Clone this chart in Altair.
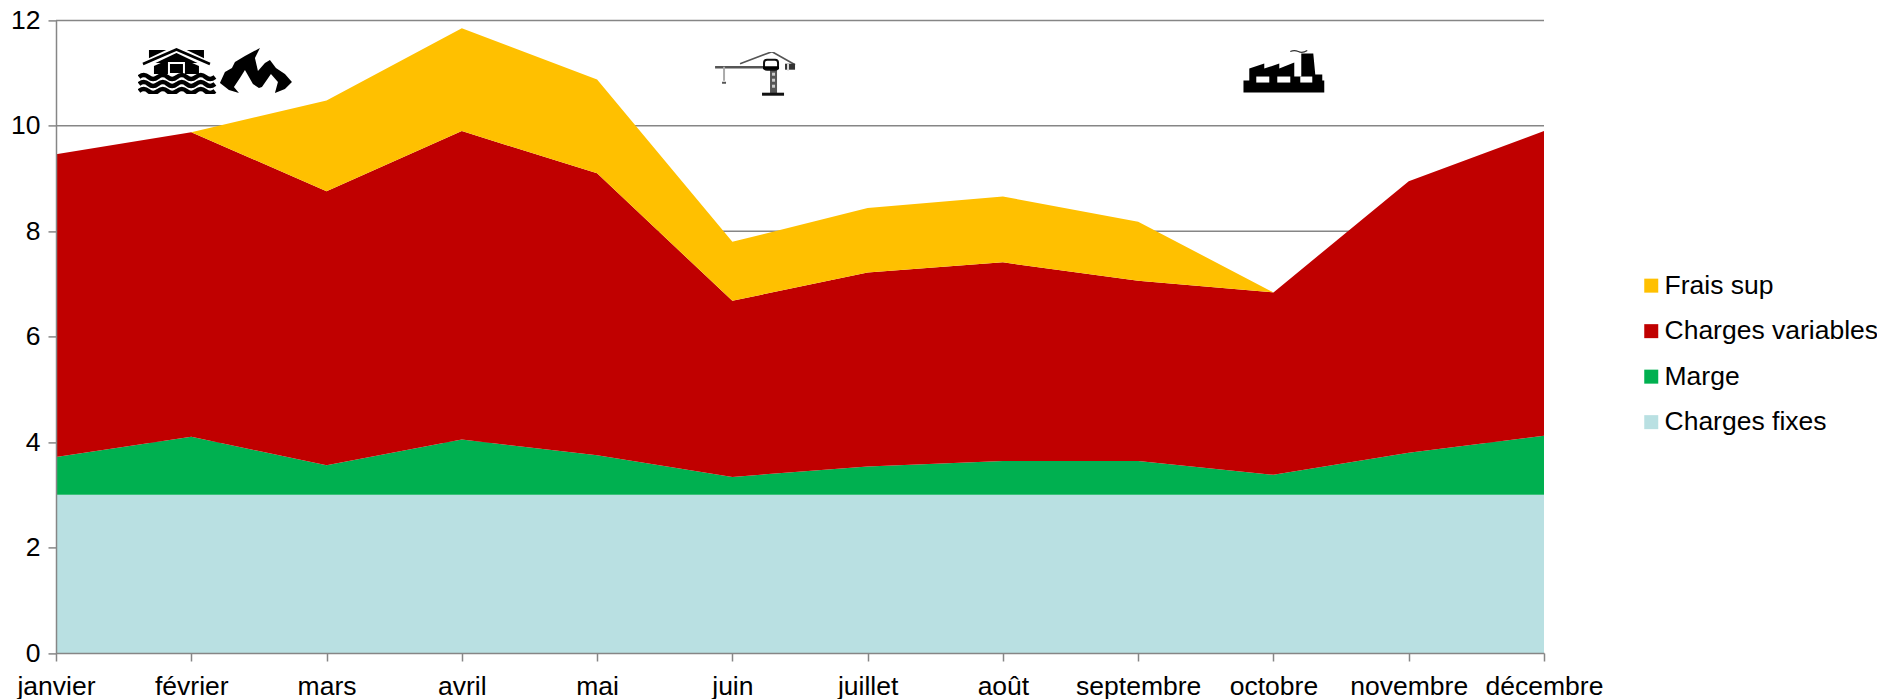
import urllib.parse
import altair as alt
import pandas as pd

months = ["janvier", "février", "mars", "avril", "mai", "juin", "juillet", "août",
          "septembre", "octobre", "novembre", "décembre"]
charges_fixes = [3.0] * 12
marge = [0.72, 1.10, 0.56, 1.05, 0.75, 0.34, 0.54, 0.64, 0.64, 0.38, 0.80, 1.12]
charges_variables = [5.74, 5.78, 5.20, 5.85, 5.35, 3.34, 3.68, 3.77, 3.42, 3.46, 5.15, 5.78]
frais_sup = [0, 0, 1.72, 1.95, 1.78, 1.12, 1.22, 1.25, 1.12, 0, 0, 0]
y_ticks = [0, 2, 4, 6, 8, 10, 12]

legend_order = ["Frais sup", "Charges variables", "Marge", "Charges fixes"]
colors = ["#FFC000", "#C00000", "#00B050", "#B9E0E2"]
series = {"Charges fixes": charges_fixes, "Marge": marge,
          "Charges variables": charges_variables, "Frais sup": frais_sup}

rows = []
for rank, (name, vals) in enumerate(series.items()):
    for i, v in enumerate(vals):
        rows.append({"m": i, "serie": name, "v": v, "rank": rank})
df = pd.DataFrame(rows)


def svg(body):
    s = ('<svg xmlns="http://www.w3.org/2000/svg" width="82" height="46" viewBox="0 0 82 46">'
         + body + "</svg>")
    return "data:image/svg+xml," + urllib.parse.quote(s)


wave = "q 5,-4 9.5,0 t 9.5,0 t 9.5,0 t 9.5,0 t 9.5,0 t 9.5,0 t 9.5,0 t 9.5,0"
house = svg(
    '<rect x="11" y="2" width="55" height="13" fill="#000"/>'
    '<polyline points="5,17 38.5,1 72,17" fill="none" stroke="#fff" stroke-width="7"/>'
    '<polyline points="5,16 38.5,1.5 72,16" fill="none" stroke="#000" stroke-width="2.6"/>'
    '<polygon points="16,18 38.5,8 61,18 61,26 16,26" fill="#000"/>'
    '<rect x="31" y="15" width="15" height="11" fill="#000" stroke="#fff" stroke-width="2"/>'
    f'<path d="M1,29 {wave}" fill="none" stroke="#000" stroke-width="4.4"/>'
    f'<path d="M1,36 {wave}" fill="none" stroke="#000" stroke-width="4.4"/>'
    f'<path d="M1,43 {wave}" fill="none" stroke="#000" stroke-width="4.4"/>'
)
flame = svg(
    '<path fill="#000" d="M0,35 L5,24 L12,20 L15,14 L25,8 L40,0 L35,10 L38,23 L45,15 L50,12 '
    'L56,20 L65,26 L72,34 L65,41 L55,45 L58,34 L51,26 L42,39 L39,40 L33,36 L25,22 L20,30 '
    'L14,39 L19,45 L9,42 Z"/>'
)
crane = svg(
    '<path d="M25,12 L57,0 L80,13" fill="none" stroke="#555" stroke-width="1.6"/>'
    '<path d="M0,15.5 L50,15.5" stroke="#555" stroke-width="2.4"/>'
    '<path d="M9,15 L9,29" stroke="#aaa" stroke-width="2"/>'
    '<path d="M7,30 h4 v2 h-4 z" fill="#555"/>'
    '<rect x="55" y="18" width="7" height="24" fill="#555"/>'
    '<rect x="57" y="21" width="3" height="3" fill="#ccc"/>'
    '<rect x="57" y="27" width="3" height="3" fill="#ccc"/>'
    '<rect x="57" y="33" width="3" height="3" fill="#ccc"/>'
    '<rect x="47" y="41" width="22" height="3" fill="#111"/>'
    '<rect x="49" y="8" width="14" height="10" rx="3" fill="#fff" stroke="#111" stroke-width="2"/>'
    '<path d="M48,16 H64" stroke="#000" stroke-width="3"/>'
    '<rect x="70" y="12" width="10" height="6" fill="#333"/>'
    '<rect x="72" y="12" width="2" height="7" fill="#ddd"/>'
)
factory = svg(
    '<path d="M47,3 q 4,-2 8,0 t 9,-1" fill="none" stroke="#333" stroke-width="1.2"/>'
    '<polygon fill="#000" points="6,20 21,15 21,20 36,15 36,20 51,14 51,28 58,28 58,5 70,5 72,26 '
    '79,26 79,32 81,32 81,44 0,44 0,32 6,32"/>'
    '<rect x="13" y="28" width="13" height="6" fill="#fff"/>'
    '<rect x="34" y="28" width="13" height="6" fill="#fff"/>'
    '<rect x="57" y="28" width="12" height="6" fill="#fff"/>'
)
icon_urls = [house, flame, crane, factory]
icon_m = [0.909, 1.515, 5.175, 9.08]
icon_v = [11.04, 11.04, 10.97, 11.03]
icons = pd.DataFrame({"m": icon_m, "v": icon_v, "url": icon_urls})

FONT = "Liberation Sans"
FS = 26.5
GREY = "#868686"
label_expr = "[" + ",".join(f"'{m}'" for m in months) + "][datum.value]"

x = alt.X("m:Q", scale=alt.Scale(domain=[0, 11], nice=False, zero=False),
          axis=alt.Axis(values=list(range(12)), labelExpr=label_expr, title=None, grid=False,
                        tickSize=8, tickColor=GREY, tickWidth=1.5, domainColor=GREY,
                        domainWidth=1.5, labelFont=FONT, labelFontSize=FS, labelColor="#000",
                        labelPadding=12, labelOverlap=False, labelFlush=False, zindex=1))
y_axis = alt.Axis(values=y_ticks, title=None, grid=False, tickSize=8, tickColor=GREY,
                  tickWidth=1.5, domainColor=GREY, domainWidth=1.5, labelFont=FONT,
                  labelFontSize=FS, labelColor="#000", labelPadding=8, zindex=1)
y_scale = alt.Scale(domain=[0, 12], nice=False)

grid = alt.Chart(pd.DataFrame({"v": y_ticks})).mark_rule(color=GREY, strokeWidth=1.5).encode(
    y=alt.Y("v:Q", scale=y_scale, axis=y_axis))
areas = alt.Chart(df).mark_area(interpolate="linear", opacity=1).encode(
    x=x, y=alt.Y("v:Q", stack="zero", scale=y_scale, axis=y_axis),
    color=alt.Color("serie:N", sort=legend_order,
                    scale=alt.Scale(domain=legend_order, range=colors),
                    legend=alt.Legend(title=None, orient="none", legendX=1582, legendY=252,
                                      symbolType="square", symbolSize=196, symbolStrokeWidth=0,
                                      labelFont=FONT, labelFontSize=FS, labelColor="#000",
                                      labelOffset=0, rowPadding=18.5, padding=0,
                                      labelLimit=400)),
    order=alt.Order("rank:Q", sort="ascending"),
)
images = alt.Chart(icons).mark_image(width=82, height=46).encode(
    x=alt.X("m:Q"), y=alt.Y("v:Q", stack=None), url="url:N")

chart = alt.layer(grid, areas, images).properties(
    width=1488, height=632.6,
    padding={"left": 48, "top": 12.4, "right": 333, "bottom": 46},
    autosize=alt.AutoSizeParams(type="none", contains="content"),
    background="white",
).configure_view(stroke=None)

chart.save("out.html", embed_options={"renderer": "svg", "actions": False})
